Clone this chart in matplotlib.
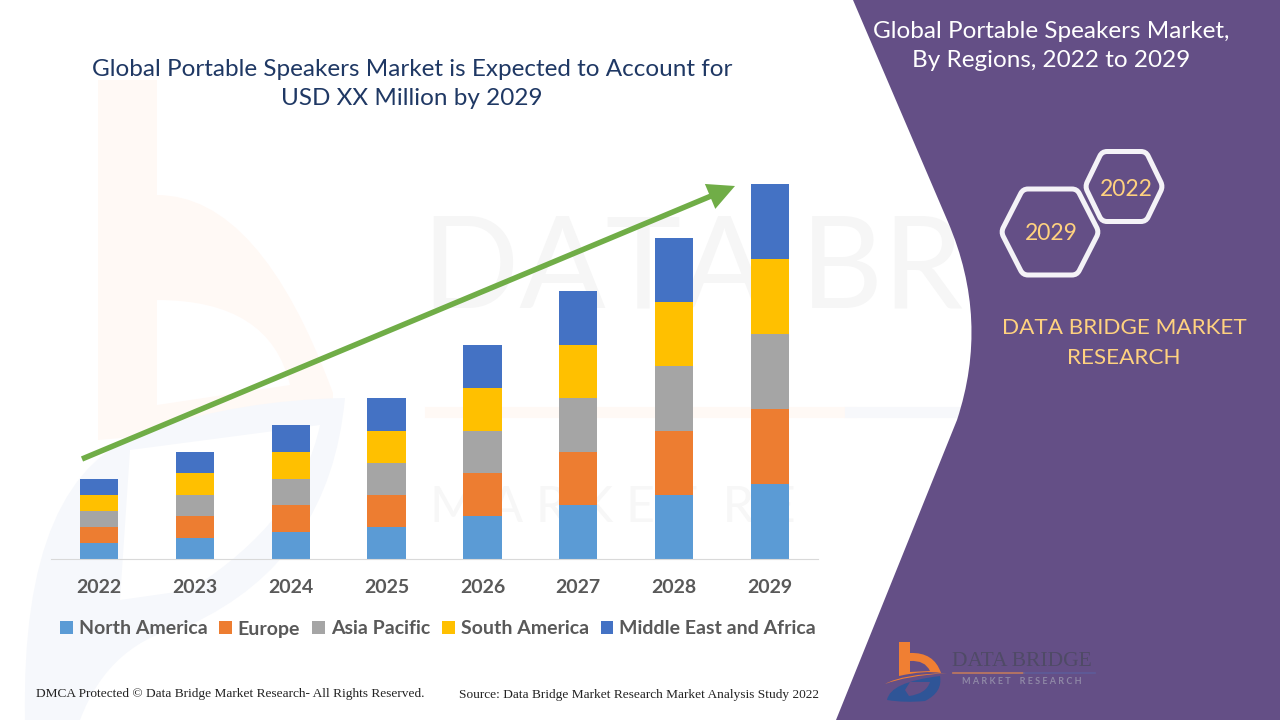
import numpy as np
import matplotlib.pyplot as plt
from matplotlib.patches import PathPatch, FancyArrow
from matplotlib.path import Path

plt.rcParams["font.family"] = ["Lato", "DejaVu Sans"]

# Data (segment heights in chart units)
years = ["2022", "2023", "2024", "2025", "2026", "2027", "2028", "2029"]
north_america = [16, 21, 27, 32, 43, 54, 64, 75]
europe = [16, 22, 27, 32, 43, 53, 64, 75]
asia_pacific = [16, 21, 26, 32, 42, 54, 65, 75]
south_america = [16, 22, 27, 32, 43, 53, 64, 75]
middle_east_africa = [16, 21, 27, 33, 43, 54, 64, 75]

regions = ["North America", "Europe", "Asia Pacific", "South America", "Middle East and Africa"]
colors = ["#5B9BD5", "#ED7D31", "#A5A5A5", "#FFC000", "#4472C4"]
series = [north_america, europe, asia_pacific, south_america, middle_east_africa]

PURPLE = "#644F86"
NAVY = "#1F3864"
CREAM = "#FFD27F"

fig = plt.figure(figsize=(12.8, 7.2), dpi=100, facecolor="white")

# background layer in pixel coordinates
bg = fig.add_axes([0, 0, 1, 1], zorder=0)
bg.set_xlim(0, 1280)
bg.set_ylim(720, 0)
bg.axis("off")


def shape(verts, codes, **kw):
    bg.add_patch(PathPatch(Path(verts, codes), ec="none", **kw))


M, L, Q, Z = Path.MOVETO, Path.LINETO, Path.CURVE3, Path.CLOSEPOLY

# faint logo on the left
shape([(98, 80), (157, 80), (157, 195), (260, 195), (333, 393), (333, 420), (98, 440),
       (98, 80), (157, 300), (157, 405), (290, 385), (270, 300), (157, 300)],
      [M, L, L, Q, Q, L, L, Z, M, L, L, Q, Q],
      fc="#FFF9F5", zorder=1)
shape([(25, 720), (20, 470), (150, 430), (240, 400), (345, 398), (330, 560), (190, 625),
       (110, 640), (80, 720), (25, 720)],
      [M, Q, Q, Q, Q, Q, Q, Q, Q, Z],
      fc="#F6F8FC", zorder=1)
shape([(130, 450), (320, 425), (300, 520), (190, 590), (120, 600), (130, 450)],
      [M, L, Q, Q, L, Z],
      fc="white", zorder=1)

# faint watermark words, the rest of them sits behind the purple panel
bg.text(422, 272, "DATA BR", fontsize=92, color="#F6F6F6", va="center", ha="left", zorder=1)
bg.text(430, 508, "M A R K E T  R E", fontsize=36, color="#F7F7F7", va="center", ha="left", zorder=1)
bg.plot([430, 850], [412, 412], color="#FFF9F5", lw=8, zorder=1)
bg.plot([850, 960], [412, 412], color="#F7F8FB", lw=8, zorder=1)

# purple panel
shape([(853, 0), (1280, 0), (1280, 720), (836, 720), (957, 420), (990, 320), (948, 222), (853, 0)],
      [M, L, L, L, L, Q, Q, Z],
      fc=PURPLE, zorder=2)


def hexagon(cx, cy, rx, ry, inset):
    pts = [(cx - rx, cy), (cx - inset, cy - ry), (cx + inset, cy - ry),
           (cx + rx, cy), (cx + inset, cy + ry), (cx - inset, cy + ry)]
    verts, codes = [], []
    for i, p in enumerate(pts):
        prev = np.array(pts[i - 1], float)
        cur = np.array(p, float)
        nxt = np.array(pts[(i + 1) % 6], float)
        a = cur + (prev - cur) * 5 / np.linalg.norm(prev - cur)
        b = cur + (nxt - cur) * 5 / np.linalg.norm(nxt - cur)
        verts += [tuple(a), tuple(cur), tuple(b)]
        codes += [M if i == 0 else L, Q, Q]
    verts.append(verts[0])
    codes.append(Z)
    bg.add_patch(PathPatch(Path(verts, codes), fc="none", ec="#F4F2F7", lw=3.6, zorder=3))


hexagon(1050, 232, 49, 43, 27)
hexagon(1124, 186.5, 39, 35, 22)

bg.text(1051, 234, "2029", color=CREAM, fontsize=16.5, ha="center", va="center", zorder=4)
bg.text(1126, 189, "2022", color=CREAM, fontsize=16.5, ha="center", va="center", zorder=4)

bg.text(1051, 46, "Global Portable Speakers Market,\nBy Regions, 2022 to 2029", color="white",
        fontsize=17.5, ha="center", va="center", linespacing=1.5, zorder=4)
bg.text(1124, 343, "DATA BRIDGE MARKET\nRESEARCH", color=CREAM, fontsize=16.2,
        ha="center", va="center", linespacing=1.62, zorder=4)

bg.text(412, 84, "Global Portable Speakers Market is Expected to Account for\nUSD XX Million by 2029",
        color=NAVY, fontsize=17.5, ha="center", va="center", linespacing=1.5, zorder=4)

bg.text(36, 694, "DMCA Protected \u00a9 Data Bridge Market Research- All Rights Reserved.",
        family="Liberation Serif", fontsize=9.65, color="#222222", va="center", zorder=4)
bg.text(819, 695, "Source: Data Bridge Market Research Market Analysis Study 2022",
        family="Liberation Serif", fontsize=9.65, color="#222222", va="center", ha="right", zorder=4)

# logo bottom right
shape([(899, 642), (910, 642), (910, 653), (934, 652), (941, 673), (925, 670), (899, 676), (899, 642),
       (910, 661), (910, 672), (930, 671), (925, 660), (910, 661)],
      [M, L, L, Q, Q, Q, L, Z, M, L, L, Q, Q],
      fc="#F07F33", zorder=3)
shape([(885, 684), (903, 674), (947, 673), (905, 676), (885, 684)],
      [M, Q, Q, Q, Q],
      fc="#F07F33", zorder=3)
shape([(887, 700), (890, 682), (940, 676), (943, 692), (925, 701), (905, 703), (887, 700),
       (905, 690), (909, 696), (926, 694), (930, 682), (910, 682), (905, 690)],
      [M, Q, Q, Q, Q, Q, Q, M, L, Q, Q, L, Z],
      fc="#2F5597", zorder=3)
bg.text(1022, 661, "DATA BRIDGE", family="Liberation Serif", fontsize=15.5, color="#4F4A66",
        ha="center", va="center", zorder=4)
bg.plot([953, 1024], [673, 673], color="#C07A5E", lw=1.2, zorder=4)
bg.plot([1024, 1095], [673, 673], color="#5D5C9A", lw=1.2, zorder=4)
bg.text(1022, 682, "M A R K E T    R E S E A R C H", fontsize=6.5, color="#8F88A6", fontweight="bold",
        ha="center", va="center", zorder=4)

# stacked bars, axes box matches the plot area
ax = fig.add_axes([51 / 1280, 1 - 559 / 720, (818 - 51) / 1280, (559 - 160) / 720], zorder=1)
ax.patch.set_alpha(0)
x = np.arange(len(years))
bottom = np.zeros(len(years))
for name, vals, col in zip(regions, series, colors):
    ax.bar(x, vals, 0.4, bottom=bottom, color=col, label=name)
    bottom += np.array(vals)

ax.set_xlim(-0.5, 7.5)
ax.set_ylim(0, 399)
ax.set_xticks(x, years)
ax.set_yticks([])
ax.tick_params(axis="x", length=0, pad=14.5, labelsize=14, labelcolor="#595959")
for lab in ax.get_xticklabels():
    lab.set_fontweight("bold")
for side in ["top", "left", "right"]:
    ax.spines[side].set_visible(False)
ax.spines["bottom"].set_color("#D9D9D9")

leg = ax.legend(loc="center", bbox_to_anchor=(387 / 767, -70 / 399), ncol=5, frameon=False,
                fontsize=14, handlelength=0.65, handleheight=0.65, handletextpad=0.3,
                columnspacing=0.62, borderpad=0)
for t in leg.get_texts():
    t.set_color("#595959")
    t.set_fontweight("bold")

# growth arrow
top = fig.add_axes([0, 0, 1, 1], zorder=2)
top.set_xlim(0, 1280)
top.set_ylim(720, 0)
top.axis("off")
top.add_patch(FancyArrow(82, 459, 735 - 82, 186 - 459, width=5.5, head_width=27, head_length=27,
                         length_includes_head=True, fc="#70AD47", ec="none"))

plt.savefig("out.png", dpi=100)
plt.close()
